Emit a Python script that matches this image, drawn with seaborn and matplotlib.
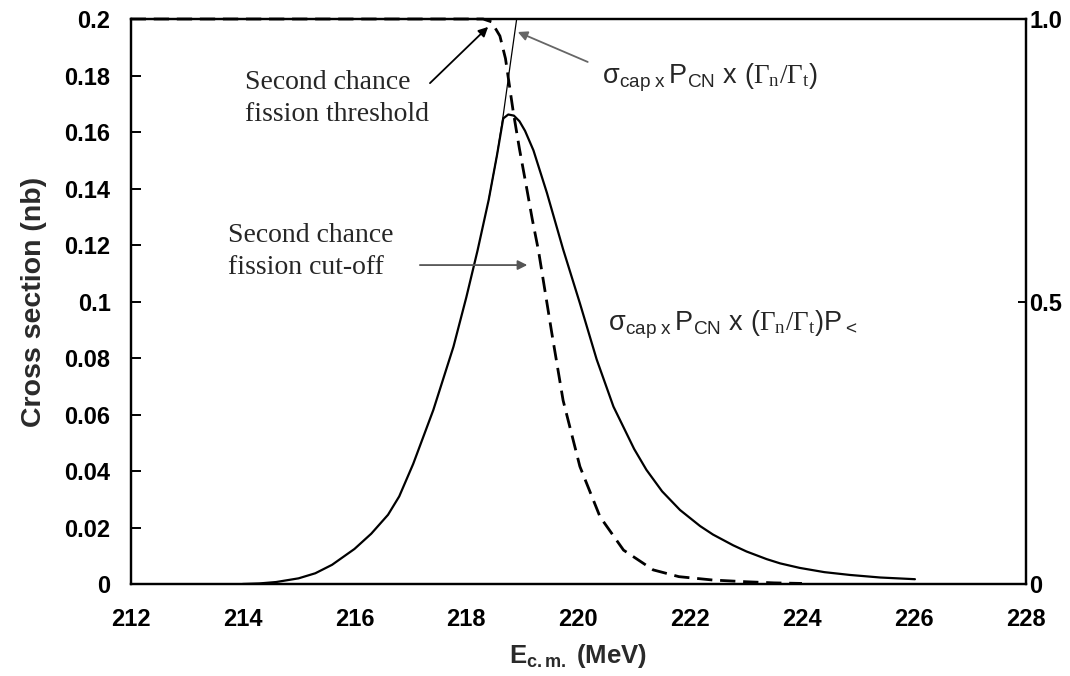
import matplotlib
matplotlib.use("Agg")
import matplotlib.pyplot as plt
import seaborn as sns
import numpy as np

# ---- data ----
# product curve  sigma_cap x P_CN x (Gn/Gt) P<   (left axis, nb)
E_prod = [214.0, 214.3, 214.6, 215.0, 215.3, 215.6, 216.0, 216.3, 216.6, 216.8, 217.05,
          217.41, 217.77, 218.0, 218.2, 218.4, 218.55, 218.66, 218.75, 218.85, 218.95,
          219.05, 219.2, 219.44, 219.73, 220.03, 220.33, 220.63, 221.0, 221.22, 221.5,
          221.82, 222.18, 222.41, 222.77, 223.01, 223.37, 223.61, 223.96, 224.4, 224.86,
          225.4, 226.02]
S_prod = [0.0, 0.0002, 0.0007, 0.002, 0.0038, 0.0068, 0.0124, 0.0178, 0.0245, 0.031, 0.0425,
          0.0616, 0.084, 0.1015, 0.118, 0.136, 0.152, 0.1648, 0.1662, 0.1658, 0.1638,
          0.1604, 0.1535, 0.1385, 0.1185, 0.0994, 0.0795, 0.0628, 0.0478, 0.0404, 0.0328,
          0.0262, 0.0205, 0.0175, 0.0137, 0.0115, 0.0088, 0.0073, 0.0057, 0.0042, 0.0032,
          0.0023, 0.0017]

# sigma_cap x P_CN x (Gn/Gt) without cut-off (left axis, nb) -- thin branch
E_noP = [218.4, 218.55, 218.66, 218.8, 218.9, 219.0]
S_noP = [0.136, 0.152, 0.166, 0.186, 0.200, 0.215]

# second-chance fission cut-off probability P< (right axis)
E_cut = [212.0, 218.3, 218.45, 218.6, 218.7, 218.84, 218.95, 219.08, 219.18, 219.29,
         219.53, 219.73, 220.03, 220.39, 220.81, 221.34, 221.8, 222.41, 223.0, 223.5, 224.0]
P_cut = [1.0, 1.0, 0.995, 0.97, 0.93, 0.835, 0.77, 0.70, 0.645, 0.59,
         0.443, 0.325, 0.208, 0.119, 0.06, 0.025, 0.013, 0.007, 0.004, 0.002, 0.001]

x_ticks = [212, 214, 216, 218, 220, 222, 224, 226, 228]
y_ticks = [0, 0.02, 0.04, 0.06, 0.08, 0.1, 0.12, 0.14, 0.16, 0.18, 0.2]
y_tick_labels = ["0", "0.02", "0.04", "0.06", "0.08", "0.1", "0.12", "0.14", "0.16", "0.18", "0.2"]
y2_ticks = [0, 0.5, 1.0]
y2_tick_labels = ["0", "0.5", "1.0"]

# ---- style ----
sns.set_theme(style="white")
plt.rcParams["font.family"] = ["Liberation Sans", "DejaVu Sans"]
plt.rcParams["mathtext.fontset"] = "custom"
plt.rcParams["mathtext.rm"] = "Liberation Sans"
plt.rcParams["mathtext.it"] = "Liberation Sans:italic"
plt.rcParams["mathtext.bf"] = "Liberation Sans:bold"
plt.rcParams["mathtext.sf"] = "Liberation Serif"
plt.rcParams["axes.linewidth"] = 1.6
plt.rcParams["axes.edgecolor"] = "black"

fig = plt.figure(figsize=(10.7, 6.76), dpi=100)
ax = fig.add_axes([0.12215, 0.13609, 0.83645, 0.83580])

sns.lineplot(x=E_prod, y=S_prod, ax=ax, color="black", linewidth=1.6, sort=False)
sns.lineplot(x=E_noP, y=S_noP, ax=ax, color="black", linewidth=0.9, sort=False)

ax.set_xlim(212, 228)
ax.set_ylim(0, 0.2)
ax.set_xticks(x_ticks)
ax.set_xticklabels([str(t) for t in x_ticks])
ax.set_yticks(y_ticks)
ax.set_yticklabels(y_tick_labels)
ax.tick_params(axis="y", direction="in", length=7, width=1.4, pad=14.5,
               labelsize=17, colors="black")
ax.tick_params(axis="x", direction="out", length=6.5, width=1.4, pad=10.5,
               labelsize=17, colors="black")
for lab in ax.get_xticklabels() + ax.get_yticklabels():
    lab.set_fontweight("bold")

ax.set_ylabel("Cross section (nb)", fontsize=20.5, fontweight="bold", color="#2a2a2a")
ax.yaxis.set_label_coords(-0.094, 0.5)
ax.set_xlabel(r"E$_{\mathbf{c.m.}}$ (MeV)", fontsize=18.5, fontweight="bold", color="#2a2a2a")
ax.xaxis.set_label_coords(0.5, -0.103)

ax2 = ax.twinx()
sns.lineplot(x=E_cut, y=P_cut, ax=ax2, color="black", linewidth=2.0, sort=False)
dline = ax2.lines[-1]
dline.set_dashes([5.5, 2.8])
dline.set_clip_on(False)
ax2.set_ylim(0, 1.0)
ax2.set_yticks(y2_ticks)
ax2.set_yticklabels(y2_tick_labels)
ax2.tick_params(axis="y", direction="in", length=6, width=1.4, pad=2.5,
                labelsize=17, colors="black", right=True, left=False)
for lab in ax2.get_yticklabels():
    lab.set_fontweight("bold")
for s in ax2.spines.values():
    s.set_linewidth(1.6)
ax2.grid(False)
ax.grid(False)

# ---- annotations ----
serif = ["Liberation Serif", "DejaVu Serif"]
ax.text(214.04, 0.1752, "Second chance", family=serif, fontsize=20, va="baseline", ha="left")
ax.text(214.04, 0.1639, "fission threshold", family=serif, fontsize=20, va="baseline", ha="left")
ax.text(213.74, 0.1211, "Second chance", family=serif, fontsize=20, va="baseline", ha="left")
ax.text(213.74, 0.1097, "fission cut-off", family=serif, fontsize=20, va="baseline", ha="left")

lab1 = r"$\mathrm{\sigma_{cap\ x}\,P_{CN}\ x\ (}\mathsf{\Gamma_{n}/\Gamma_{t}}\mathrm{)}$"
lab2 = r"$\mathrm{\sigma_{cap\ x}\,P_{CN}\ x\ (}\mathsf{\Gamma_{n}/\Gamma_{t}}\mathrm{)P_{<}}$"
ax.text(220.43, 0.1773, lab1, fontsize=19.5, va="baseline", ha="left")
ax.text(220.53, 0.0899, lab2, fontsize=19.5, va="baseline", ha="left")

ax.annotate("", xy=(218.39, 0.1972), xytext=(217.35, 0.1773),
            arrowprops=dict(arrowstyle="-|>", color="black", lw=1.3,
                            mutation_scale=14, shrinkA=0, shrinkB=0))
ax.annotate("", xy=(218.92, 0.1954), xytext=(220.17, 0.1848),
            arrowprops=dict(arrowstyle="-|>", color="#666666", lw=1.3,
                            mutation_scale=14, shrinkA=0, shrinkB=0))
ax.annotate("", xy=(219.09, 0.1129), xytext=(217.17, 0.1129),
            arrowprops=dict(arrowstyle="-|>", color="#555555", lw=1.3,
                            mutation_scale=14, shrinkA=0, shrinkB=0))

fig.savefig("out.png", dpi=100)
